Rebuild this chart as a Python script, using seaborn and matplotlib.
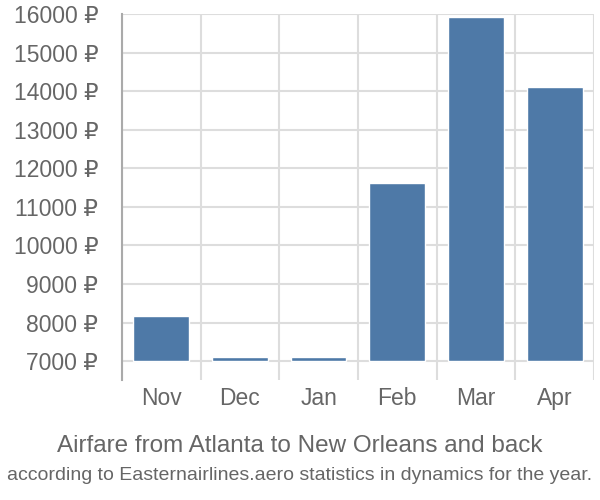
import matplotlib
matplotlib.use("Agg")
import matplotlib.pyplot as plt
import seaborn as sns
import pandas as pd
import numpy as np

months = ["Nov", "Dec", "Jan", "Feb", "Mar", "Apr"]
prices = [8180, 7100, 7100, 11610, 15920, 14120]
yticks = [7000, 8000, 9000, 10000, 11000, 12000, 13000, 14000, 15000, 16000]
base = 7000

title = "Airfare from Atlanta to New Orleans and back"
subtitle = "according to Easternairlines.aero statistics in dynamics for the year."

sns.set_theme(style="white")
plt.rcParams['font.family'] = ['Liberation Sans', 'DejaVu Sans']

df = pd.DataFrame({"month": months, "height": [p - base for p in prices]})

fig = plt.figure(figsize=(6, 5), dpi=100)
ax = fig.add_axes([0.203, 0.24, 0.787, 0.732])

sns.barplot(data=df, x="month", y="height", bottom=base, color="#4e79a7",
            saturation=1, width=0.71, ax=ax, zorder=3)

ax.set_ylim(6510, 16000)
ax.set_xlim(-0.5, 5.5)
ax.set_yticks(yticks)
ax.set_yticklabels([f"{v} ₽" for v in yticks])
ax.set_xlabel("")
ax.set_ylabel("")

for s in ["top", "right", "bottom"]:
    ax.spines[s].set_visible(False)
ax.spines["left"].set_color("#aaaaaa")
ax.spines["left"].set_linewidth(1.5)

ax.set_xticks(np.arange(-0.5, 6.0, 1.0), minor=True)
ax.grid(axis="y", which="major", color="#dddddd", linewidth=1.5, zorder=0)
ax.grid(axis="x", which="minor", color="#dddddd", linewidth=1.5, zorder=0)
ax.grid(axis="x", which="major", visible=False)

ax.tick_params(axis="y", which="major", length=16, width=1.5, color="#dddddd",
               labelsize=16.5, labelcolor="#666666", pad=1)
ax.tick_params(axis="x", which="major", length=0, labelsize=16.5,
               labelcolor="#666666", pad=5)
ax.tick_params(axis="x", which="minor", length=0)

fig.text(0.5, 0.108, title, ha="center", va="center", fontsize=17.5, color="#666666")
fig.text(0.5, 0.048, subtitle, ha="center", va="center", fontsize=14,
         color="#666666")

fig.savefig("out.png", dpi=100)
